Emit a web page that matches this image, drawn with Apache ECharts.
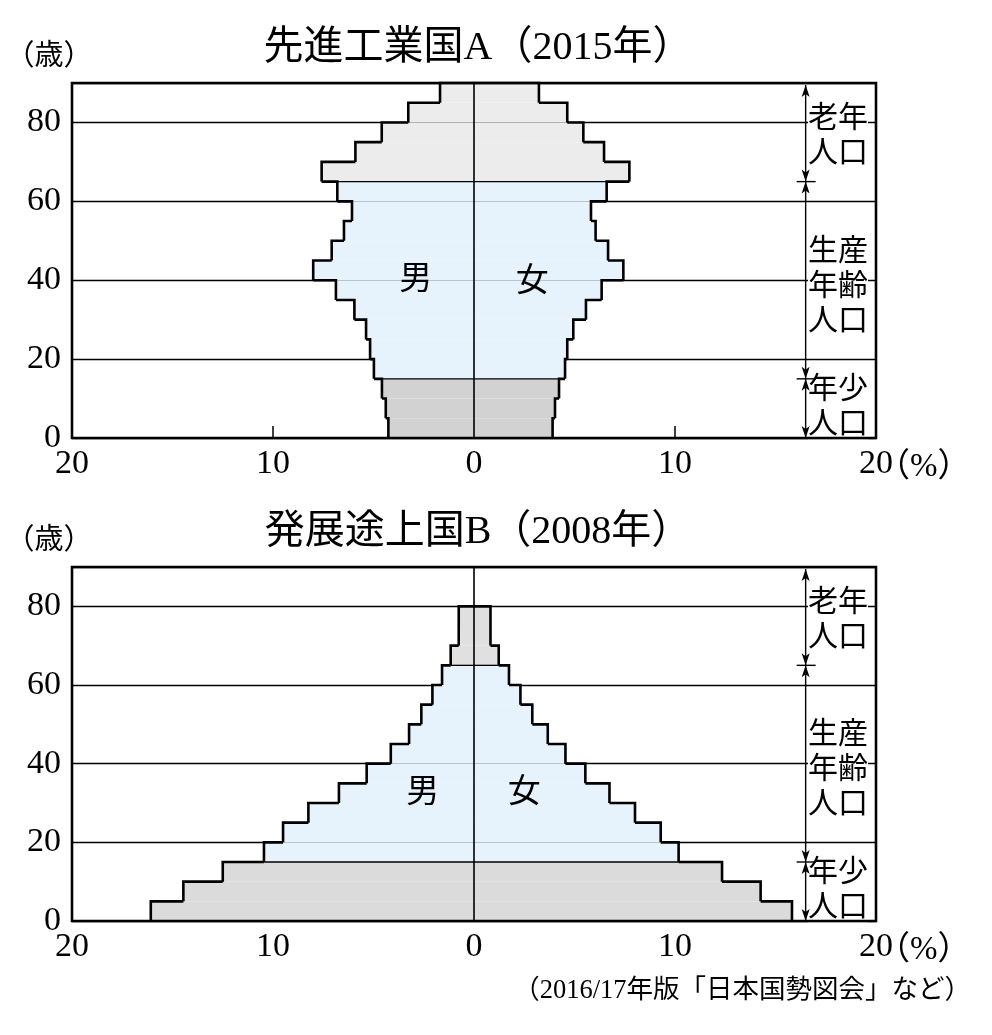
<!DOCTYPE html>
<html>
<head>
<meta charset="utf-8">
<script src="https://cdn.jsdelivr.net/npm/echarts@6/dist/echarts.min.js"></script>
<style>
  html, body { margin: 0; padding: 0; background: #fff; }
  #chart { width: 992px; height: 1035px; }
</style>
</head>
<body>
<div id="chart"></div>
<script>
// 5歳階級の下端（歳）
const agesA = [0, 5, 10, 15, 20, 25, 30, 35, 40, 45, 50, 55, 60, 65, 70, 75, 80, 85];
const maleA = [4.26, 4.39, 4.58, 4.98, 5.17, 5.37, 5.95, 6.87, 8.0, 7.08, 6.47, 6.07, 6.8, 7.58, 5.9, 4.59, 3.27, 1.69];
const femaleA = [3.91, 4.03, 4.23, 4.53, 4.64, 4.94, 5.57, 6.35, 7.43, 6.67, 6.05, 5.82, 6.6, 7.73, 6.47, 5.44, 4.64, 3.23];

const agesB = [0, 5, 10, 15, 20, 25, 30, 35, 40, 45, 50, 55, 60, 65, 70, 75];
const maleB = [16.08, 14.46, 12.5, 10.45, 9.5, 8.24, 6.72, 5.34, 4.14, 3.23, 2.62, 2.07, 1.59, 1.16, 0.76, 0.76];
const femaleB = [15.82, 14.26, 12.34, 10.18, 9.29, 8.01, 6.74, 5.54, 4.55, 3.67, 2.9, 2.31, 1.74, 1.23, 0.82, 0.82];

const titles = ['先進工業国A（2015年）', '発展途上国B（2008年）'];
const yTicks = [0, 20, 40, 60, 80];

const FONT = "'Liberation Serif', 'Noto Sans CJK JP', serif";
const JP = "'Noto Sans CJK JP', sans-serif";
const STEP = 5;

// 年齢区分ごとの塗り色
const colorsA = { old: '#ececec', work: '#e6f2fc', young: '#d2d2d2' };
const colorsB = { old: '#e0e0e0', work: '#e6f2fc', young: '#dbdbdb' };

// [階級下端, 値, 次の階級の値]  男は負の値
function buildItems(ages, male, female) {
  const out = [];
  ages.forEach((a, i) => {
    out.push([a, -male[i], i + 1 < male.length ? -male[i + 1] : 0]);
  });
  ages.forEach((a, i) => {
    out.push([a, female[i], i + 1 < female.length ? female[i + 1] : 0]);
  });
  return out;
}

const chart = echarts.init(document.getElementById('chart'));

function fillSeries(idx, items, colors) {
  return {
    type: 'custom',
    xAxisIndex: idx,
    yAxisIndex: idx,
    z: 2,
    silent: true,
    data: items,
    renderItem: function (params, api) {
      const a0 = api.value(0), v = api.value(1);
      const p0 = api.coord([0, a0]);
      const p1 = api.coord([v, a0 + STEP]);
      const col = a0 >= 65 ? colors.old : (a0 >= 15 ? colors.work : colors.young);
      return {
        type: 'rect',
        shape: {
          x: Math.min(p0[0], p1[0]),
          y: p1[1],
          width: Math.abs(p1[0] - p0[0]),
          height: p0[1] - p1[1]
        },
        style: { fill: col }
      };
    }
  };
}

function outlineSeries(idx, items) {
  return {
    type: 'custom',
    xAxisIndex: idx,
    yAxisIndex: idx,
    z: 5,
    silent: true,
    data: items,
    renderItem: function (params, api) {
      const a0 = api.value(0), v = api.value(1), vn = api.value(2);
      const children = [];
      if (a0 === 15 || a0 === 65) {
        const s = api.coord([0, a0]), e = api.coord([v, a0]);
        children.push({
          type: 'line',
          shape: { x1: s[0], y1: s[1], x2: e[0], y2: e[1] },
          style: { stroke: '#000', lineWidth: 1.3 }
        });
      }
      children.push({
        type: 'polyline',
        shape: {
          points: [api.coord([v, a0]), api.coord([v, a0 + STEP]), api.coord([vn, a0 + STEP])]
        },
        style: { stroke: '#000', lineWidth: 2.6, fill: null, lineJoin: 'miter' }
      });
      return { type: 'group', children: children };
    },
    markLine: {
      silent: true,
      symbol: 'none',
      label: { show: false },
      lineStyle: { color: '#000', width: 1.6, type: 'solid' },
      data: [{ xAxis: 0 }]
    }
  };
}

function xAxis(idx) {
  return {
    type: 'value',
    gridIndex: idx,
    min: -20,
    max: 20,
    interval: 10,
    axisLine: { show: false },
    axisTick: { show: true, inside: true, length: 12, lineStyle: { color: '#000', width: 1.5 } },
    splitLine: { show: false },
    axisLabel: {
      color: '#000',
      fontFamily: FONT,
      fontSize: 34,
      margin: 9,
      formatter: v => String(Math.abs(v))
    }
  };
}

function yAxis(idx) {
  return {
    type: 'value',
    gridIndex: idx,
    min: 0,
    max: 90,
    interval: 20,
    axisLine: { show: false },
    axisTick: { show: false },
    splitLine: { show: true, lineStyle: { color: '#000', width: 1.3 } },
    axisLabel: {
      color: '#000',
      fontFamily: FONT,
      fontSize: 34,
      margin: 11,
      showMaxLabel: false,
      formatter: v => (yTicks.indexOf(v) >= 0 ? String(v) : '')
    }
  };
}

const itemsA = buildItems(agesA, maleA, femaleA);
const itemsB = buildItems(agesB, maleB, femaleB);

chart.setOption({
  animation: false,
  backgroundColor: '#fff',
  grid: [
    { left: 72, top: 83, width: 804, height: 355 },
    { left: 72, top: 567, width: 804, height: 354 }
  ],
  xAxis: [xAxis(0), xAxis(1)],
  yAxis: [yAxis(0), yAxis(1)],
  series: [
    fillSeries(0, itemsA, colorsA),
    outlineSeries(0, itemsA),
    fillSeries(1, itemsB, colorsB),
    outlineSeries(1, itemsB)
  ]
});

// 枠・年齢区分の矢印・文字
function arrowHead(x, y, dir) {
  // dir: -1 上向き, 1 下向き
  return {
    type: 'polygon',
    z: 20,
    shape: { points: [[x, y], [x - 4, y - dir * 12], [x, y - dir * 9], [x + 4, y - dir * 12]] },
    style: { fill: '#000' }
  };
}

function annotations(g, sexPos) {
  const px = pt => chart.convertToPixel({ gridIndex: g }, pt);
  const els = [];
  const tl = px([-20, 90]), br = px([20, 0]);

  const bx = px([16.5, 0])[0];
  const yTop = tl[1] + 2, y65 = px([0, 65])[1], y15 = px([0, 15])[1], yBot = br[1];
  [[yTop, y65], [y65, y15], [y15, yBot]].forEach(seg => {
    els.push({
      type: 'line', z: 20,
      shape: { x1: bx, y1: seg[0], x2: bx, y2: seg[1] },
      style: { stroke: '#000', lineWidth: 1.4 }
    });
    els.push(arrowHead(bx, seg[0], -1));
    els.push(arrowHead(bx, seg[1], 1));
  });
  [y65, y15].forEach(y => {
    els.push({
      type: 'line', z: 20,
      shape: { x1: bx - 9, y1: y, x2: bx + 10, y2: y },
      style: { stroke: '#000', lineWidth: 1.4 }
    });
  });

  const labelX = br[0] - 8;
  const zoneLabels = [
    { text: '老年\n人口', y: (yTop + y65) / 2 },
    { text: '生産\n年齢\n人口', y: (y65 + y15) / 2 + 3 },
    { text: '年少\n人口', y: (y15 + yBot) / 2 - 4 }
  ];
  zoneLabels.forEach(l => {
    els.push({
      type: 'text', z: 15,
      style: {
        text: l.text, x: labelX, y: l.y,
        font: '30px ' + JP, fill: '#000',
        align: 'right', verticalAlign: 'middle',
        lineHeight: 35, backgroundColor: '#fff'
      }
    });
  });

  // 男・女
  [['男', sexPos[0]], ['女', sexPos[1]]].forEach(s => {
    const p = px(s[1]);
    els.push({
      type: 'text', z: 15,
      style: { text: s[0], x: p[0], y: p[1], font: '33px ' + JP, fill: '#000', align: 'center', verticalAlign: 'middle' }
    });
  });

  // 枠
  els.push({
    type: 'rect', z: 30,
    shape: { x: tl[0], y: tl[1], width: br[0] - tl[0], height: br[1] - tl[1] },
    style: { fill: null, stroke: '#000', lineWidth: 2.6 }
  });

  // タイトル・単位
  els.push({
    type: 'text', z: 15,
    style: { text: titles[g], x: 478, y: tl[1] - 35, font: '40px ' + FONT, fill: '#000', align: 'center', verticalAlign: 'middle' }
  });
  els.push({
    type: 'text', z: 15,
    style: { text: '（歳）', x: 49, y: tl[1] - 26, font: '29px ' + FONT, fill: '#000', align: 'center', verticalAlign: 'middle' }
  });
  els.push({
    type: 'text', z: 15,
    style: { text: '（%）', x: br[0] + 1, y: br[1] + 29, font: '33px ' + FONT, fill: '#000', align: 'left', verticalAlign: 'middle' }
  });
  return els;
}

const graphics = annotations(0, [[-2.9, 41], [2.9, 40.5]])
  .concat(annotations(1, [[-2.55, 33.5], [2.5, 33.5]]));
graphics.push({
  type: 'text', z: 15,
  style: {
    text: '（2016/17年版「日本国勢図会」など）', x: 971, y: 991,
    font: '26.5px ' + FONT, fill: '#000', align: 'right', verticalAlign: 'middle'
  }
});

chart.setOption({ graphic: graphics });
</script>
</body>
</html>
